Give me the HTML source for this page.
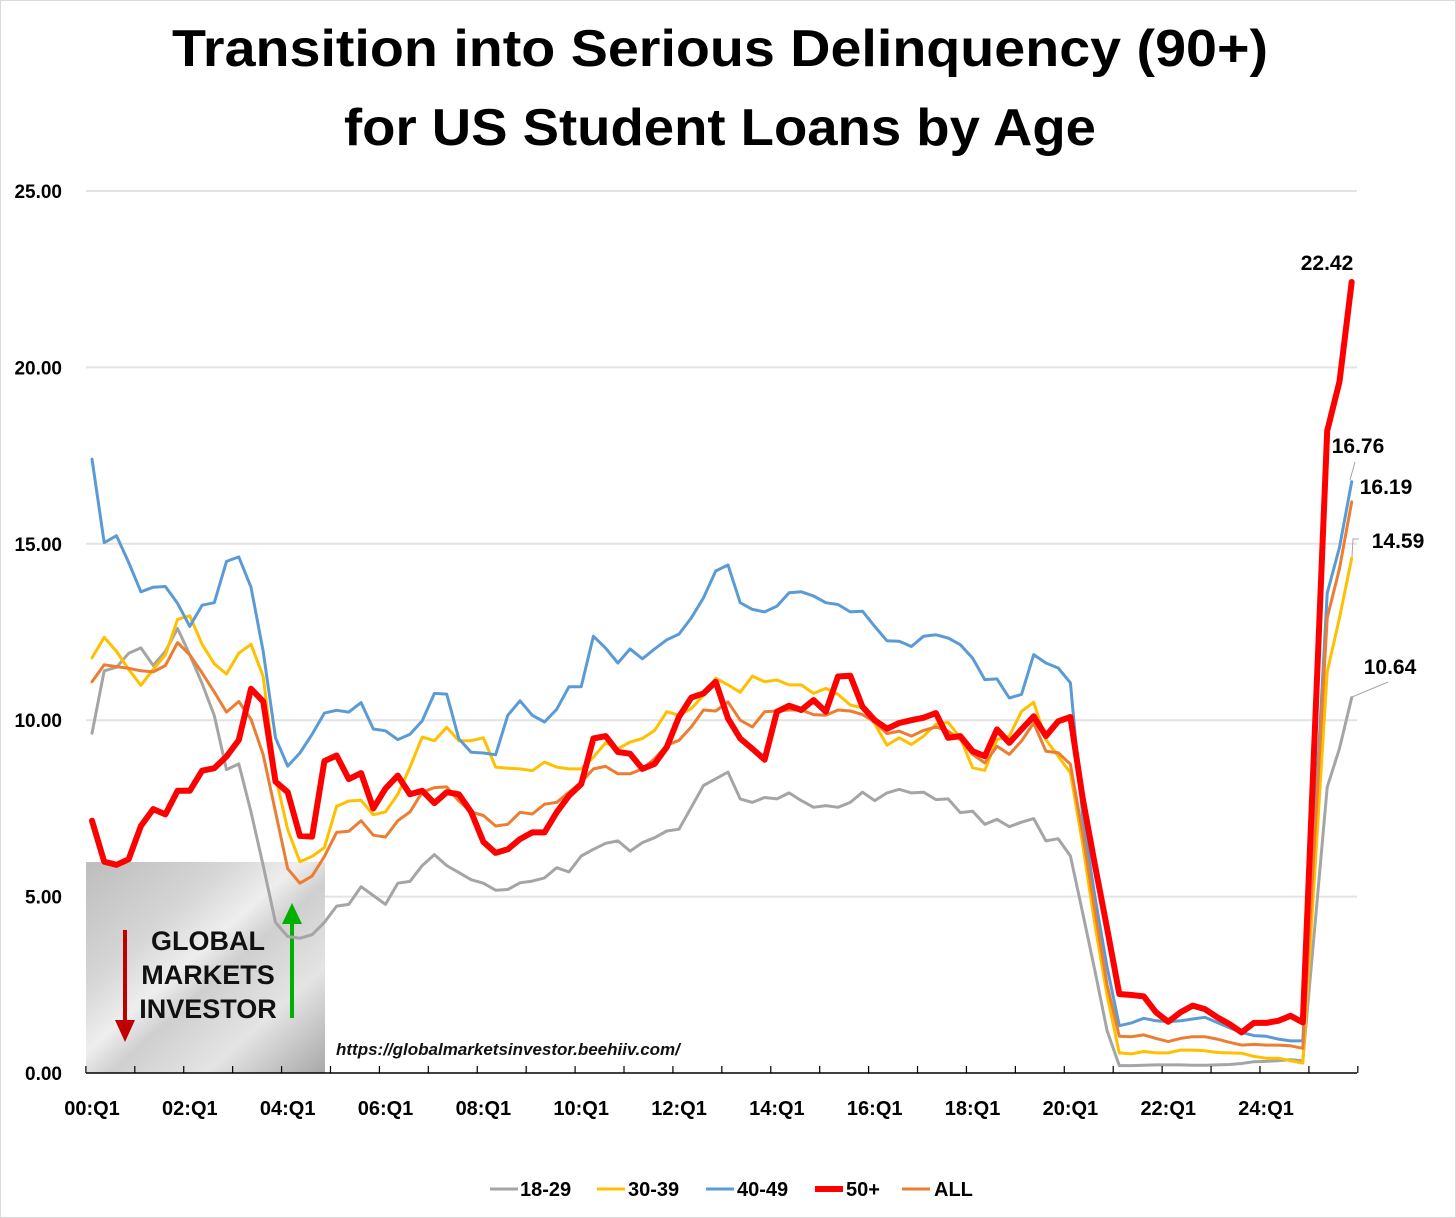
<!DOCTYPE html>
<html><head><meta charset="utf-8">
<style>
html,body{margin:0;padding:0;background:#fff;}
svg{display:block;font-family:"Liberation Sans",sans-serif;}
</style></head>
<body>
<svg id="chart" width="1456" height="1218" viewBox="0 0 1456 1218" xmlns="http://www.w3.org/2000/svg">
<defs>
<linearGradient id="logoGrad" x1="0" y1="0" x2="1" y2="1">
<stop offset="0" stop-color="#bdbdbd"/>
<stop offset="0.3" stop-color="#d6d6d6"/>
<stop offset="0.45" stop-color="#eeeeee"/>
<stop offset="0.55" stop-color="#cfcfcf"/>
<stop offset="0.75" stop-color="#e4e4e4"/>
<stop offset="1" stop-color="#a8a8a8"/>
</linearGradient>
</defs>
<rect x="0.5" y="0.5" width="1455" height="1217" fill="#fff" stroke="#d9d9d9"/>
<text x="720" y="66" text-anchor="middle" font-size="52" font-weight="bold" textLength="1096" lengthAdjust="spacingAndGlyphs">Transition into Serious Delinquency (90+)</text>
<text x="720" y="145" text-anchor="middle" font-size="52" font-weight="bold" textLength="752" lengthAdjust="spacingAndGlyphs">for US Student Loans by Age</text>
<g id="grid"></g>
<g id="ylabels"></g>
<g>
<rect x="86" y="862" width="239" height="211" fill="url(#logoGrad)"/>
<text x="208" y="950" text-anchor="middle" font-size="27" font-weight="bold" fill="#111">GLOBAL</text>
<text x="208" y="984" text-anchor="middle" font-size="27" font-weight="bold" fill="#111">MARKETS</text>
<text x="208" y="1018" text-anchor="middle" font-size="27" font-weight="bold" fill="#111">INVESTOR</text>
<line x1="125" y1="930" x2="125" y2="1024" stroke="#c00000" stroke-width="4"/>
<polygon points="115,1020 135,1020 125,1042" fill="#c00000"/>
<line x1="292" y1="1018" x2="292" y2="922" stroke="#00b000" stroke-width="4"/>
<polygon points="282,924 302,924 292,903" fill="#00b000"/>
</g>
<text x="336" y="1055" font-size="17" font-weight="bold" font-style="italic" fill="#111">https://globalmarketsinvestor.beehiiv.com/</text>
<g id="series"></g>
<g id="xaxis"></g>
<g font-weight="bold" font-size="21">
<text x="1327" y="270" text-anchor="middle">22.42</text>
<text x="1358" y="453" text-anchor="middle">16.76</text>
<text x="1386" y="494" text-anchor="middle">16.19</text>
<text x="1398" y="548" text-anchor="middle">14.59</text>
<text x="1390" y="674" text-anchor="middle">10.64</text>
<polyline points="1355,462 1350,480" fill="none" stroke="#a5a5a5" stroke-width="1"/>
<polyline points="1359,539 1353,539 1352,557" fill="none" stroke="#a5a5a5" stroke-width="1"/>
<polyline points="1388,682 1352,697 1350,700" fill="none" stroke="#a5a5a5" stroke-width="1"/>
</g>
<g font-weight="bold" font-size="20">
<g><line x1="490" y1="1189" x2="518" y2="1189" stroke="#a5a5a5" stroke-width="3"/><text x="520" y="1196">18-29</text></g>
<g><line x1="597" y1="1189" x2="625" y2="1189" stroke="#ffc000" stroke-width="3"/><text x="628" y="1196">30-39</text></g>
<g><line x1="706" y1="1189" x2="734" y2="1189" stroke="#5b9bd5" stroke-width="3"/><text x="737" y="1196">40-49</text></g>
<g><line x1="815" y1="1189" x2="843" y2="1189" stroke="#ff0000" stroke-width="6"/><text x="846" y="1196">50+</text></g>
<g><line x1="902" y1="1189" x2="930" y2="1189" stroke="#ed7d31" stroke-width="3"/><text x="934" y="1196">ALL</text></g>
</g>
</svg>
<script>
const yTicks = [0, 5, 10, 15, 20, 25];
const xTickLabels = ["00:Q1","02:Q1","04:Q1","06:Q1","08:Q1","10:Q1","12:Q1","14:Q1","16:Q1","18:Q1","20:Q1","22:Q1","24:Q1"];
const s1829 = [9.63,11.4,11.5,11.9,12.05,11.55,11.95,12.6,11.85,11.04,10.13,8.6,8.76,7.4,5.88,4.27,3.87,3.82,3.92,4.27,4.73,4.78,5.28,5.03,4.78,5.38,5.43,5.88,6.19,5.88,5.68,5.48,5.38,5.18,
5.2,5.39,5.44,5.53,5.82,5.7,6.15,6.34,6.51,6.58,6.29,6.53,6.67,6.86,6.91,7.53,8.15,8.34,8.53,7.77,7.67,7.81,7.77,7.94,7.72,7.53,7.58,7.53,7.67,7.96,7.72,7.94,
8.04,7.94,7.96,7.75,7.77,7.38,7.42,7.05,7.19,6.98,7.11,7.21,6.58,6.64,6.15,
4.55,2.9,1.2,
0.21,0.21,0.22,0.23,0.23,0.23,0.22,0.22,0.23,0.24,0.27,0.32,0.33,0.35,0.38,0.35,
4.2,8.1,9.2,10.64];
const s3039 = [11.77,12.35,11.95,11.44,10.99,11.44,11.85,12.86,12.96,12.15,11.6,11.31,11.9,12.15,11.24,8.4,6.9,5.99,6.14,6.39,7.56,7.71,7.73,7.32,7.4,7.9,8.67,9.52,9.42,9.8,9.42,9.42,9.5,8.67,
8.64,8.62,8.57,8.81,8.67,8.62,8.62,8.95,9.36,9.19,9.38,9.48,9.71,10.24,10.14,10.33,10.71,11.19,11.0,10.79,11.25,11.09,11.14,11.0,11.0,10.76,10.9,10.73,10.43,10.35,9.9,9.29,
9.5,9.31,9.55,9.88,9.94,9.5,8.65,8.58,9.45,9.55,10.25,10.51,9.45,8.98,8.51,
6.5,4.2,2.2,
0.57,0.54,0.61,0.57,0.57,0.65,0.65,0.63,0.58,0.57,0.56,0.47,0.42,0.42,0.35,0.28,
5.8,11.37,12.9,14.59];
const s4049 = [17.4,15.03,15.23,14.47,13.64,13.77,13.79,13.31,12.66,13.26,13.33,14.5,14.63,13.77,11.95,9.5,8.7,9.07,9.6,10.2,10.28,10.23,10.5,9.75,9.7,9.45,9.6,9.98,10.76,10.74,9.47,9.09,9.07,9.02,
10.14,10.55,10.14,9.95,10.31,10.95,10.95,12.38,12.04,11.62,12.02,11.74,12.02,12.28,12.44,12.9,13.47,14.23,14.4,13.33,13.14,13.07,13.23,13.61,13.64,13.52,13.33,13.28,13.07,13.09,12.66,12.25,
12.24,12.09,12.38,12.42,12.33,12.14,11.76,11.15,11.17,10.63,10.73,11.86,11.62,11.48,11.06,
7.3,5.0,3.0,
1.34,1.42,1.55,1.48,1.45,1.48,1.53,1.58,1.43,1.28,1.15,1.06,1.04,0.96,0.91,0.91,
7.2,13.6,14.9,16.76];
const s50p = [7.15,5.99,5.9,6.06,7.0,7.48,7.33,8.0,8.0,8.57,8.64,8.97,9.44,10.89,10.53,8.26,7.96,6.72,6.7,8.84,9.0,8.33,8.5,7.5,8.06,8.43,7.9,8.0,7.65,7.96,7.9,7.4,6.55,6.24,
6.34,6.63,6.82,6.82,7.39,7.86,8.19,9.48,9.55,9.1,9.05,8.62,8.76,9.24,10.1,10.64,10.76,11.09,10.05,9.48,9.19,8.88,10.24,10.41,10.29,10.57,10.24,11.24,11.26,10.38,10.0,9.76,
9.92,10.0,10.07,10.2,9.5,9.55,9.12,8.98,9.74,9.36,9.74,10.11,9.55,9.97,10.09,
7.8,5.9,4.1,
2.24,2.21,2.17,1.72,1.45,1.72,1.91,1.81,1.58,1.39,1.15,1.42,1.42,1.48,1.62,1.43,
9.8,18.2,19.6,22.42];
const sAll = [11.09,11.57,11.52,11.47,11.4,11.37,11.55,12.2,11.85,11.34,10.8,10.23,10.53,10.03,9.02,7.4,5.79,5.38,5.58,6.14,6.82,6.85,7.15,6.74,6.69,7.15,7.4,7.96,8.09,8.11,7.71,7.4,7.3,7.0,
7.05,7.39,7.34,7.62,7.67,7.96,8.24,8.62,8.69,8.48,8.48,8.62,8.91,9.29,9.43,9.81,10.29,10.26,10.52,10.0,9.81,10.24,10.26,10.29,10.29,10.16,10.14,10.29,10.26,10.16,9.95,9.62,
9.69,9.55,9.71,9.81,9.69,9.45,9.03,8.79,9.26,9.03,9.41,9.92,9.12,9.08,8.75,
6.8,4.6,2.5,
1.04,1.03,1.08,0.98,0.89,0.98,1.03,1.03,0.96,0.87,0.79,0.81,0.79,0.79,0.77,0.7,
6.8,12.9,14.3,16.19];

const NS = "http://www.w3.org/2000/svg";
const X0 = 92, DX = 12.23, Y0 = 1073, YS = 35.28;
function xPos(i){ return X0 + DX * i; }
function yPos(v){ return Y0 - YS * v; }
function mk(tag, attrs, parent){
  const e = document.createElementNS(NS, tag);
  for (const k in attrs) e.setAttribute(k, attrs[k]);
  parent.appendChild(e);
  return e;
}
const grid = document.getElementById('grid');
const ylabels = document.getElementById('ylabels');
yTicks.forEach(v => {
  if (v > 0) {
    const g = mk('line', {x1: 86, x2: 1357, y1: yPos(v), y2: yPos(v), stroke: '#e3e3e3', 'stroke-width': 2}, grid);
    
    
  }
  const t = mk('text', {x: 62, y: yPos(v) + 7, 'text-anchor': 'end', 'font-size': 19, 'font-weight': 'bold'}, ylabels);
  t.textContent = v.toFixed(2);
  
  
});
const xaxis = document.getElementById('xaxis');
const ax = mk('line', {x1: 86, x2: 1357, y1: Y0, y2: Y0, stroke: '#000', 'stroke-width': 1.5}, xaxis);


for (let k = 0; k <= 26; k++) {
  const tx = xPos(4 * k - 0.5);
  const tk = mk('line', {x1: tx, x2: tx, y1: Y0, y2: Y0 - 7, stroke: '#000', 'stroke-width': 1.2}, xaxis);
  
  
}
xTickLabels.forEach((lab, j) => {
  const t = mk('text', {x: xPos(8 * j), y: 1115, 'text-anchor': 'middle', 'font-size': 20, 'font-weight': 'bold'}, xaxis);
  t.textContent = lab;
  
  
});
const seriesG = document.getElementById('series');
const seriesDefs = [
  {data: s1829, color: '#a5a5a5', w: 3, name: 'line-18-29'},
  {data: s3039, color: '#ffc000', w: 3, name: 'line-30-39'},
  {data: s4049, color: '#5b9bd5', w: 3, name: 'line-40-49'},
  {data: sAll, color: '#ed7d31', w: 3, name: 'line-all'},
  {data: s50p, color: '#ff0000', w: 6, name: 'line-50plus'}
];
seriesDefs.forEach(s => {
  const pts = s.data.map((v, i) => xPos(i).toFixed(1) + ',' + yPos(v).toFixed(1)).join(' ');
  const p = mk('polyline', {points: pts, fill: 'none', stroke: s.color, 'stroke-width': s.w, 'stroke-linejoin': 'round', 'stroke-linecap': 'round'}, seriesG);
  
  
});
</script>
</body></html>
